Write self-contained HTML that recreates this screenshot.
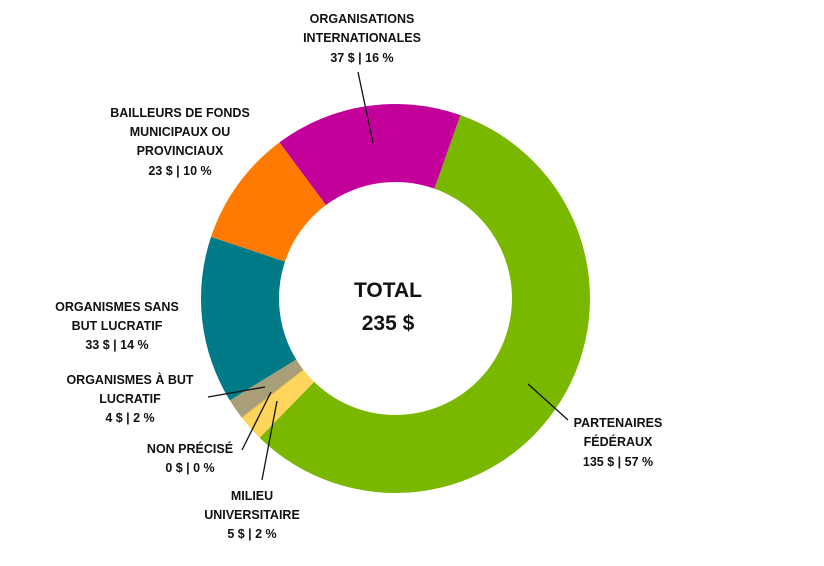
<!DOCTYPE html>
<html><head><meta charset="utf-8"><style>
body{margin:0;background:#fff}
svg text{font-family:"Liberation Sans",Arial,sans-serif;font-weight:bold;fill:#111}
</style></head><body>
<svg width="824" height="561" viewBox="0 0 824 561">
<g id="slices"></g>
<g id="labels" font-size="12.5" text-anchor="middle">
<text x="362" y="23">ORGANISATIONS<tspan x="362" dy="19">INTERNATIONALES</tspan><tspan x="362" dy="20">37 $ | 16 %</tspan></text>
<text x="180" y="117">BAILLEURS DE FONDS<tspan x="180" dy="19">MUNICIPAUX OU</tspan><tspan x="180" dy="19">PROVINCIAUX</tspan><tspan x="180" dy="20">23 $ | 10 %</tspan></text>
<text x="117" y="311">ORGANISMES SANS<tspan x="117" dy="19">BUT LUCRATIF</tspan><tspan x="117" dy="19">33 $ | 14 %</tspan></text>
<text x="130" y="384">ORGANISMES À BUT<tspan x="130" dy="19">LUCRATIF</tspan><tspan x="130" dy="19">4 $ | 2 %</tspan></text>
<text x="190" y="453">NON PRÉCISÉ<tspan x="190" dy="19">0 $ | 0 %</tspan></text>
<text x="252" y="500">MILIEU<tspan x="252" dy="19">UNIVERSITAIRE</tspan><tspan x="252" dy="19">5 $ | 2 %</tspan></text>
<text x="618" y="427">PARTENAIRES<tspan x="618" dy="19">FÉDÉRAUX</tspan><tspan x="618" dy="20">135 $ | 57 %</tspan></text>
</g>
<g stroke="#111" stroke-width="1.3">
<line x1="358" y1="72" x2="373" y2="143"/>
<line x1="265" y1="387" x2="208" y2="397"/>
<line x1="271" y1="392" x2="242" y2="450"/>
<line x1="277" y1="401" x2="262" y2="480"/>
<line x1="528" y1="384" x2="568" y2="420"/>
</g>
<text x="388" y="297" font-size="21" text-anchor="middle">TOTAL</text>
<text x="388" y="330" font-size="21" text-anchor="middle">235 $</text>
</svg>
<script>
const categories=["Partenaires fédéraux","Milieu universitaire","Non précisé","Organismes à but lucratif","Organismes sans but lucratif","Bailleurs municipaux ou provinciaux","Organisations internationales"];
const values=[135,5,0.3,4,33,23,37];
const colors=["#7ab800","#fdd55a","#f0c040","#a89f78","#007a87","#ff7a00","#c4009b"];
const cx=395.5,cy=298.5,R=194.5,r=116.5,start=19.5;
const total=values.reduce((a,b)=>a+b,0);
const g=document.getElementById('slices');
function pt(a,rad){const t=(a-90)*Math.PI/180;return [cx+rad*Math.cos(t),cy+rad*Math.sin(t)];}
let a=start;
values.forEach((v,i)=>{
 const sweep=v/total*360;const a2=a+sweep;
 const [x1,y1]=pt(a,R),[x2,y2]=pt(a2,R),[x3,y3]=pt(a2,r),[x4,y4]=pt(a,r);
 const lg=sweep>180?1:0;
 const p=document.createElementNS('http://www.w3.org/2000/svg','path');
 p.setAttribute('d',`M${x1},${y1}A${R},${R} 0 ${lg} 1 ${x2},${y2}L${x3},${y3}A${r},${r} 0 ${lg} 0 ${x4},${y4}Z`);
 p.setAttribute('fill',colors[i]);
 
 
 g.appendChild(p);
 a=a2;
});
</script>
</body></html>
